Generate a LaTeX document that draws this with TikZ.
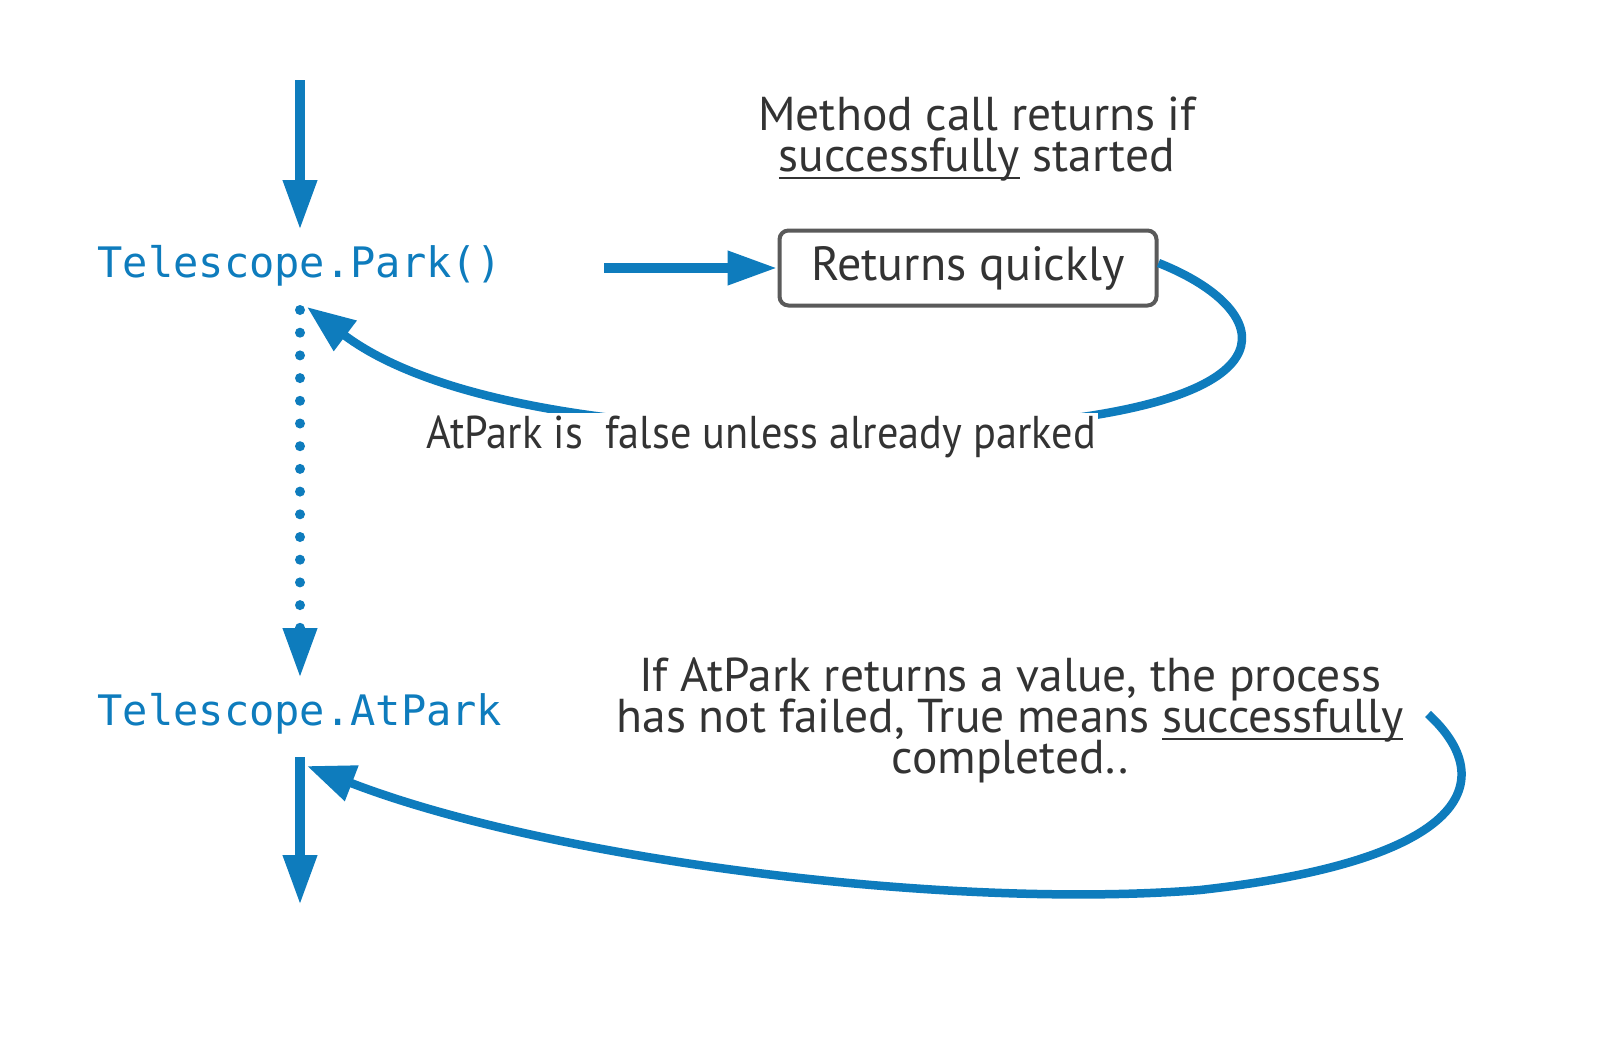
\documentclass[tikz,border=0pt]{standalone}
\usepackage{fontspec}
\setmainfont{PT Sans}
\setmonofont{DejaVu Sans Mono}
\newfontfamily\narrowfont[FakeStretch=0.92]{PT Sans}
\usetikzlibrary{arrows.meta}
\definecolor{flow}{HTML}{0E7CBD}
\definecolor{ink}{HTML}{333333}
\definecolor{boxline}{HTML}{5A5A5A}
\newcommand\thickul[1]{\setbox0=\hbox{#1}\rlap{\raisebox{-8pt}{\rule{\wd0}{2.5pt}}}\box0\relax}
\newcommand\firstline{\rule{0pt}{36pt}}
\lineskiplimit=-100pt\relax
\begin{document}
\begin{tikzpicture}[x=1pt,y=-1pt,
  code/.style={text=flow,font=\ttfamily\fontsize{42}{46}\selectfont,inner sep=0pt},
  note/.style={text=ink,font=\fontsize{47.5}{41}\selectfont,inner sep=0pt,anchor=north,align=center},
  labelnote/.style={text=ink,font=\narrowfont\fontsize{46}{41}\selectfont,inner sep=2pt,anchor=base,fill=white},
  stepbox/.style={draw=boxline,line width=4pt,rounded corners=9pt,minimum width=377pt,minimum height=75pt,text=ink,font=\fontsize{48}{50}\selectfont,inner sep=0pt},
  flowarrow/.style={draw=flow,line width=10pt,-{Triangle[length=50pt,width=32pt]}},
  dotflow/.style={draw=flow,line width=10pt,line cap=round,dash pattern=on 0pt off 22.7pt,-{Triangle[length=50pt,width=32pt]}},
  loop/.style={draw=flow,line width=8.5pt,-{Triangle[length=48pt,width=36pt]}}
]
\useasboundingbox (0,0) rectangle (1605,1044);
\fill[white] (0,0) rectangle (1605,1044);

\node[code] (park) at (300,266) {Telescope.Park()};
\node[code] (atpark) at (300,714) {Telescope.AtPark};
\node[stepbox] (box) at (968,268) {Returns quickly};

\node[note] (mnote) at (977,94) {\firstline Method call returns if\\\thickul{successfully} started};

\coordinate (start) at (300,80);
\coordinate (ret2) at (1428,714);

\draw[flowarrow] (start) -- ([yshift=36pt]park.center);
\draw[flowarrow] ([shift={(304pt,-2pt)}]park.center) -- (box.west);

\draw[loop] ([yshift=5pt]box.east) .. controls (1265,305) and (1305,390) .. (1060,420)
  .. controls (800,445) and (470,430) .. ([shift={(7pt,-41pt)}]park.center);

\node[labelnote] (lbl) at (761,448) {AtPark is \ false unless already parked};

\draw[dotflow] ([yshift=-44pt]park.center) -- ([yshift=36pt]atpark.center);

\draw[flowarrow] ([yshift=-43pt]atpark.center) -- ([yshift=-191pt]atpark.center);

\node[note] (bnote) at (1010,655) {\firstline If AtPark returns a value, the process\\has not failed, True means \thickul{successfully}\\completed..};

\draw[loop] (ret2) .. controls (1500,780) and (1470,860) .. (1200,890)
  .. controls (950,910) and (550,860) .. ([shift={(7pt,-52pt)}]atpark.center);
\end{tikzpicture}
\end{document}
